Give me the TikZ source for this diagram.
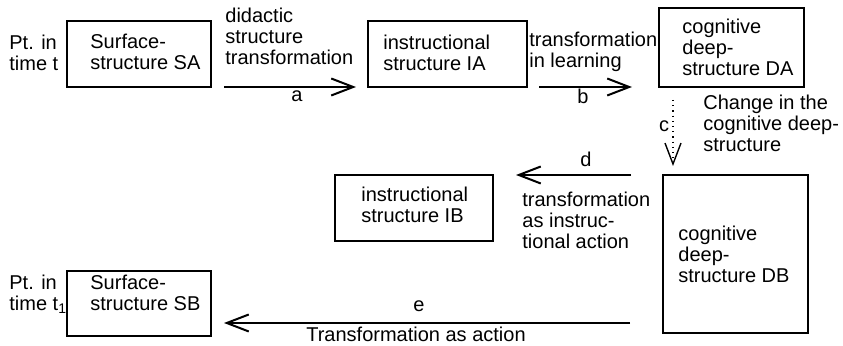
\documentclass[tikz,border=0pt]{standalone}
\usepackage{fontspec}
\setmainfont{Liberation Sans}
\usetikzlibrary{arrows.meta}
\begin{document}
\begin{tikzpicture}[x=0.5pt,y=-0.5pt,
  every node/.style={font=\fontsize{10}{10.5}\selectfont},
  box/.style={draw, line width=0.7pt, inner sep=0pt},
  % multi-line texts are placed by the baseline of their last line
  txt/.style={inner sep=0pt, align=left, anchor=base west},
  lab/.style={inner sep=0pt, anchor=base},
  flow/.style={line width=1pt, -{Straight Barb[length=11pt,width=8.5pt,line width=1pt]}},
  change/.style={line width=0.6pt, dotted, -{Straight Barb[length=10.5pt,width=8pt,line width=0.7pt]}},
]
\useasboundingbox (0,0) rectangle (843,346);

% structure boxes
\node[box, minimum width=72pt,   minimum height=33pt]   (SA) at (139,54)    {};
\node[box, minimum width=79.5pt, minimum height=33pt]   (IA) at (447.5,54)  {};
\node[box, minimum width=72.5pt, minimum height=39.5pt] (DA) at (731.5,47.5) {};
\node[box, minimum width=79pt,   minimum height=33pt]   (IB) at (414,208)   {};
\node[box, minimum width=72.5pt, minimum height=79pt]   (DB) at (735.5,254) {};
\node[box, minimum width=72pt,   minimum height=32.5pt] (SB) at (139,303.5) {};

% box texts
\node[txt] (SAt) at (90,70)  {Surface-\\structure SA};
\node[txt] (IAt) at (383,71) {instructional\\structure IA};
\node[txt] (DAt) at (682,76) {cognitive\\deep-\\structure DA};
\node[txt] (IBt) at (361,223) {instructional\\structure IB};
\node[txt] (DBt) at (678,283) {cognitive\\deep-\\structure DB};
\node[txt] (SBt) at (90,311) {Surface-\\structure SB};

% points in time
\node[txt] (t0) at (9,71)  {Pt. in\\time t};
\node[txt] (t1) at (9,311) {Pt. in\\time t\textsubscript{1}};

% connector end points
\coordinate (a0) at (224,87);  \coordinate (a1) at (356,87);
\coordinate (b0) at (539,87);  \coordinate (b1) at (632,87);
\coordinate (c0) at (673,100); \coordinate (c1) at (673,166);
\coordinate (d0) at (631,175); \coordinate (d1) at (516,175);
\coordinate (e0) at (630,323); \coordinate (e1) at (224,323);

% transformations
\draw[flow] (a0) -- (a1);
\draw[flow] (b0) -- (b1);
\draw[change] (c0) -- (c1);
\draw[flow] (d0) -- (d1);
\draw[flow] (e0) -- (e1);

% connector labels
\node[lab] (la) at (297,102) {a};
\node[lab] (lb) at (583,104) {b};
\node[lab] (lc) at (664,132) {c};
\node[lab] (ld) at (586,167) {d};
\node[lab] (le) at (419,312) {e};

\node[txt] (ta) at (225,65)  {didactic\\structure\\transformation};
\node[txt] (tb) at (529,68)  {transformation\\in learning};
\node[txt] (tc) at (703,152) {Change in the\\cognitive deep-\\structure};
\node[txt] (td) at (522,249) {transformation\\as instruc-\\tional action};
\node[lab] (te) at (416,342) {Transformation as action};
\end{tikzpicture}
\end{document}
